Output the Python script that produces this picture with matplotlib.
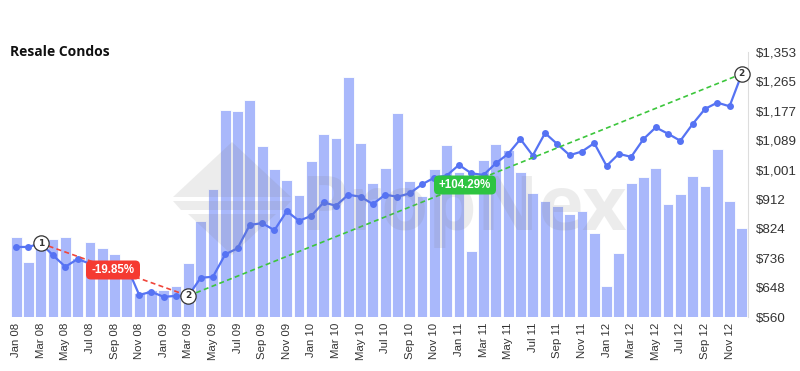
import matplotlib
matplotlib.use("Agg")
import matplotlib.pyplot as plt
from matplotlib.patches import FancyBboxPatch, Polygon
from matplotlib.ticker import FixedLocator, FuncFormatter

months = ["Jan", "Feb", "Mar", "Apr", "May", "Jun", "Jul", "Aug", "Sep", "Oct", "Nov", "Dec"]
years = ["08", "09", "10", "11", "12"]
periods = [f"{m} {y}" for y in years for m in months]

volume = [322, 222, 313, 312, 321, 237, 302, 276, 252, 209, 96, 109,
          109, 126, 218, 386, 512, 829, 824, 868, 685, 592, 549, 490,
          624, 733, 717, 962, 696, 538, 598, 817, 545, 486, 592, 688,
          581, 266, 629, 693, 669, 582, 496, 465, 446, 412, 425, 338,
          124, 256, 537, 562, 596, 454, 493, 566, 526, 673, 465, 358]

price = [770, 770, 781, 745, 711, 734, 720, 712, 716, 712, 627, 636,
         621, 624, 624, 678, 681, 748, 766, 836, 841, 820, 877, 848,
         863, 903, 893, 926, 920, 898, 926, 920, 930, 957, 977, 983,
         1015, 990, 985, 1020, 1048, 1092, 1043, 1110, 1077, 1044, 1055, 1080,
         1012, 1048, 1039, 1092, 1127, 1108, 1087, 1137, 1182, 1201, 1190, 1287]

price_ticks = [560, 648, 736, 824, 912, 1001, 1089, 1177, 1265, 1353]

# annotation points: (index, marker label)
drop_start, drop_end, rise_end = 2, 14, 59
drop_label = "-19.85%"
rise_label = "+104.29%"

W, H = 800, 371
fig = plt.figure(figsize=(W / 100, H / 100), dpi=100)
left, right, bottom, top = 10 / W, 748 / W, (H - 317.3) / H, (H - 51.7) / H
ax = fig.add_axes([left, bottom, right - left, top - bottom])
x = list(range(len(periods)))

ax.bar(x, volume, width=0.88, color="#a9b8fb", edgecolor="white", linewidth=0.6, zorder=1)
ax.set_xlim(-0.5, len(periods) - 0.5)
ax.set_ylim(0, 1062)
ax.set_yticks([])
for s in ["left", "top", "bottom", "right"]:
    ax.spines[s].set_visible(False)
ax.set_xticks(x[::2])
ax.set_xticklabels(periods[::2], rotation=90, fontsize=8.2, color="#333333",
                   family="Liberation Sans")
ax.tick_params(axis="x", length=0, pad=4)

ax2 = ax.twinx()
ax2.set_ylim(560, 1353)
ax2.set_xlim(-0.5, len(periods) - 0.5)
ax2.yaxis.set_major_locator(FixedLocator(price_ticks))
ax2.yaxis.set_major_formatter(FuncFormatter(lambda v, p: f"${v:,.0f}"))
ax2.tick_params(axis="y", length=0, pad=6, labelsize=9.6, labelcolor="#333333")
for lab in ax2.get_yticklabels():
    lab.set_family("Liberation Sans")
for s in ["left", "top", "bottom"]:
    ax2.spines[s].set_visible(False)
ax2.spines["right"].set_color("#dddddd")
ax2.spines["right"].set_linewidth(0.8)

ax2.plot(x, price, color="#5673f3", linewidth=1.6, marker="o", markersize=5,
         markeredgewidth=0, zorder=3)

# trend lines
ax2.plot([drop_start, drop_end], [price[drop_start], price[drop_end]],
         color="#f0453a", linestyle=(0, (3, 2)), linewidth=1.2, zorder=4)
ax2.plot([drop_end, rise_end], [price[drop_end], price[rise_end]],
         color="#3cc63c", linestyle=(0, (3, 2)), linewidth=1.2, zorder=4)

for idx, num in [(drop_start, "1"), (drop_end, "2"), (rise_end, "2")]:
    ax2.plot(idx, price[idx], marker="o", markersize=11, markerfacecolor="white",
             markeredgecolor="#333333", markeredgewidth=0.9, zorder=6, clip_on=False)
    ax2.text(idx, price[idx], num, ha="center", va="center", fontsize=6.5,
             fontweight="bold", color="#333333", zorder=7, family="DejaVu Sans")

# watermark (figure pixel coords)
def px(xp, yp):
    return (xp / W, 1 - yp / H)

wm_color = "#7f7f7f"
wm_shapes = [
    [(173, 197), (232, 142), (291, 197)],
    [(173, 201), (291, 201), (283, 210), (181, 210)],
    [(188, 214), (276, 214), (232, 255)],
]
for pts in wm_shapes:
    fig.patches.append(Polygon([px(*p) for p in pts], closed=True,
                               transform=fig.transFigure, facecolor=wm_color,
                               alpha=0.14, edgecolor="none", zorder=8))
fig.text(*px(300, 230), "PropNex", fontsize=55, fontweight="bold", color=wm_color,
         alpha=0.14, ha="left", va="baseline", family="Open Sans", zorder=8)

# percentage labels
def badge(xc, yc, w, h, text, color):
    box = FancyBboxPatch(px(xc - w / 2, yc + h / 2), w / W, h / H,
                         boxstyle="round,pad=0,rounding_size=0.006",
                         transform=fig.transFigure, facecolor=color,
                         edgecolor="none", zorder=10, mutation_aspect=W / H)
    fig.patches.append(box)
    fig.text(*px(xc, yc), text, ha="center", va="center", fontsize=8.3,
             fontweight="bold", color="white", zorder=11, family="Liberation Sans")

badge(113, 270, 54, 19, drop_label, "#f53a31")
badge(465, 185, 62, 19, rise_label, "#2ec441")

fig.text(10 / W, 1 - 52 / H, "Resale Condos", fontsize=10, fontweight="bold",
         color="#111111", ha="left", va="center", family="Open Sans")

fig.savefig("out.png", dpi=100)
